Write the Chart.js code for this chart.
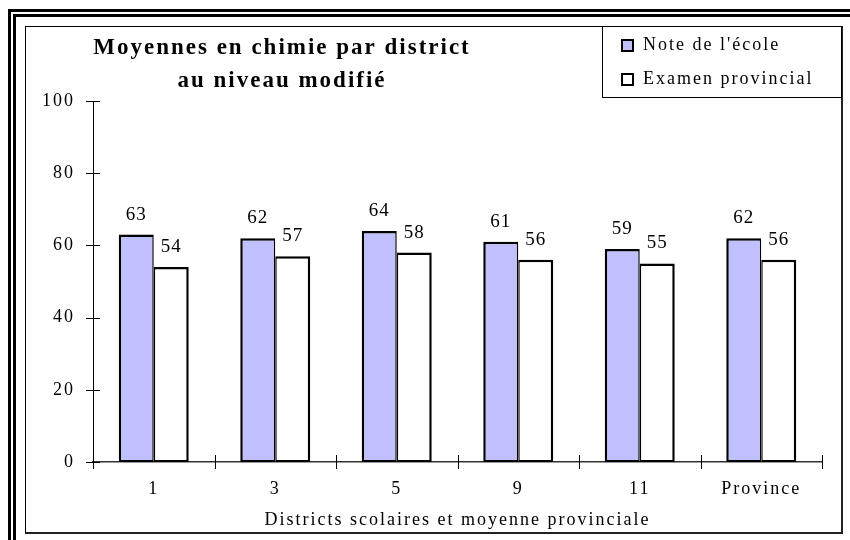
<!DOCTYPE html>
<html>
<head>
<meta charset="utf-8">
<script src="https://cdn.jsdelivr.net/npm/chart.js@4/dist/chart.umd.min.js"></script>
<style>
  html, body { margin: 0; padding: 0; width: 850px; height: 540px; overflow: hidden; background: #fff; }
  #outer { position: absolute; left: 8px; top: 9px; width: 1000px; height: 1000px; border-left: 8px double #000; border-top: 8px double #000; }
  #inner { position: absolute; left: 25px; top: 26px; width: 815px; height: 505px; border-top: 1px solid #000; border-left: 1px solid #000; border-right: 2px solid #222; border-bottom: 2px solid #222; background: #fff; }
  #c { position: absolute; left: 0; top: 0; }
</style>
</head>
<body>
<div id="outer"></div>
<div id="inner"></div>
<canvas id="c" width="850" height="540"></canvas>
<script>
// ---- data ----
const categories = ['1', '3', '5', '9', '11', 'Province'];
const ecoleValues = [63, 62, 64, 61, 59, 62];
const examenValues = [54, 57, 58, 56, 55, 56];
const seriesLabels = ["Note de l'école", 'Examen provincial'];
const titleLines = ['Moyennes en chimie par district', 'au niveau modifié'];
const xAxisTitle = 'Districts scolaires et moyenne provinciale';
const yMin = 0, yMax = 100, yStep = 20;

const FONT = "'Liberation Serif', 'Times New Roman', serif";
const SPACING = '2px';

const spacingPlugin = {
  id: 'spacing',
  beforeDraw(chart) { chart.ctx.letterSpacing = SPACING; }
};

const tickMarksPlugin = {
  id: 'tickMarks',
  afterDraw(chart) {
    const ctx = chart.ctx;
    const x = chart.scales.x, y = chart.scales.y;
    ctx.save();
    ctx.strokeStyle = '#000';
    ctx.lineWidth = 1;
    for (let v = yMin; v <= yMax; v += yStep) {
      const py = Math.round(y.getPixelForValue(v)) + 0.5;
      ctx.beginPath();
      ctx.moveTo(x.left - 7, py);
      ctx.lineTo(x.left + 7, py);
      ctx.stroke();
    }
    const n = categories.length;
    const step = x.getPixelForTick(1) - x.getPixelForTick(0);
    for (let i = 0; i <= n; i++) {
      const px = Math.round(x.getPixelForTick(0) - step / 2 + i * step) + 0.5;
      ctx.beginPath();
      ctx.moveTo(px, y.bottom - 7);
      ctx.lineTo(px, y.bottom + 7);
      ctx.stroke();
    }
    ctx.restore();
  }
};

const valueLabelsPlugin = {
  id: 'valueLabels',
  afterDatasetsDraw(chart) {
    const ctx = chart.ctx;
    ctx.save();
    ctx.letterSpacing = '1px';
    ctx.font = '19px ' + FONT;
    ctx.fillStyle = '#000';
    ctx.textAlign = 'center';
    ctx.textBaseline = 'middle';
    chart.data.datasets.forEach((ds, di) => {
      const meta = chart.getDatasetMeta(di);
      meta.data.forEach((el, i) => {
        ctx.fillText(String(ds.data[i]), el.x, el.y - 20);
      });
    });
    ctx.restore();
  }
};

const titleLegendPlugin = {
  id: 'titleLegend',
  afterDraw(chart) {
    const ctx = chart.ctx;
    ctx.save();
    ctx.letterSpacing = '2px';
    ctx.font = 'bold 23px ' + FONT;
    ctx.fillStyle = '#000';
    ctx.textAlign = 'center';
    ctx.textBaseline = 'alphabetic';
    ctx.fillText(titleLines[0], 282, 54);
    ctx.fillText(titleLines[1], 282, 87);
    ctx.strokeStyle = '#000';
    ctx.lineWidth = 1;
    ctx.strokeRect(602.5, 26.5, 239, 71);
    ctx.font = '18px ' + FONT;
    ctx.textAlign = 'left';
    ctx.textBaseline = 'middle';
    const rows = [45.5, 79.5];
    chart.data.datasets.forEach((ds, i) => {
      const cy = rows[i];
      ctx.fillStyle = ds.backgroundColor;
      ctx.fillRect(622, cy - 5.5, 11, 11);
      ctx.lineWidth = 2;
      ctx.strokeStyle = '#000';
      ctx.strokeRect(622, cy - 5.5, 11, 11);
      ctx.fillStyle = '#000';
      ctx.fillText(ds.label, 643, cy);
    });
    ctx.restore();
  }
};

new Chart(document.getElementById('c'), {
  type: 'bar',
  data: {
    labels: categories,
    datasets: [
      {
        label: seriesLabels[0],
        data: ecoleValues,
        backgroundColor: '#c0c0ff',
        borderColor: '#000',
        borderWidth: { top: 2.5, left: 2.5, right: 1.5, bottom: 2 },
        borderSkipped: false
      },
      {
        label: seriesLabels[1],
        data: examenValues,
        backgroundColor: '#ffffff',
        borderColor: '#000',
        borderWidth: { top: 2.5, left: 1.5, right: 2.5, bottom: 2 },
        borderSkipped: false
      }
    ]
  },
  options: {
    responsive: false,
    animation: false,
    devicePixelRatio: 1,
    layout: { padding: { left: 0, right: 28, top: 101, bottom: 0 } },
    datasets: { bar: { categoryPercentage: 0.576, barPercentage: 1 } },
    plugins: {
      legend: { display: false },
      title: { display: false },
      tooltip: { enabled: false }
    },
    scales: {
      x: {
        grid: { display: false, drawTicks: false },
        border: { display: true, color: '#333', width: 1.5 },
        ticks: { color: '#000', font: { family: FONT, size: 18 }, padding: 16, maxRotation: 0 },
        title: { display: true, text: xAxisTitle, color: '#000', font: { family: FONT, size: 18 }, padding: { top: 4, bottom: 9 } },
        afterFit(scale) { scale.height = 78; }
      },
      y: {
        min: yMin, max: yMax,
        grid: { display: false, drawTicks: false },
        border: { display: true, color: '#000', width: 1 },
        ticks: { stepSize: yStep, color: '#000', font: { family: FONT, size: 18 }, padding: 18 },
        afterFit(scale) { scale.width = 93; }
      }
    }
  },
  plugins: [spacingPlugin, valueLabelsPlugin, tickMarksPlugin, titleLegendPlugin]
});
</script>
</body>
</html>
